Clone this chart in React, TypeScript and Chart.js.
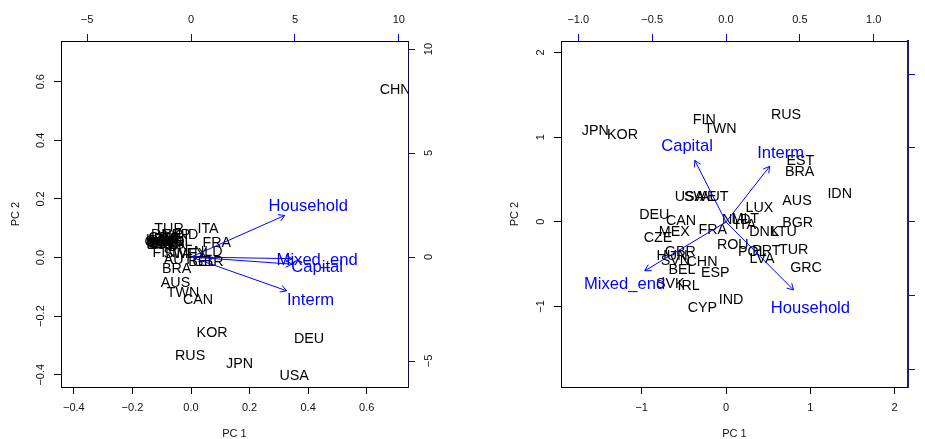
import React, { useEffect, useRef } from "react";
import { Chart, registerables } from "chart.js";

Chart.register(...registerables);

const FONT = "'Liberation Sans', Arial, Helvetica, sans-serif";
const BLUE = "#0000FF";

// ---------------- Left panel data ----------------
const countriesA = [
  "CHN", "KOR", "DEU", "RUS", "JPN", "USA", "CAN", "TWN", "AUS", "BRA",
  "ITA", "FRA", "NLD", "BEL", "GBR", "CYP", "MLT", "LUX", "EST", "LVA",
  "LTU", "SVN", "BGR", "SVK", "IRL", "GRC", "HUN", "PRT", "ROU", "CZE",
  "DNK", "FIN", "TUR", "ESP", "IND", "POL", "IDN", "SWE", "MEX", "AUT",
];
const pc1A = [
  0.697, 0.072, 0.403, -0.003, 0.166, 0.352, 0.024, -0.027, -0.053, -0.049,
  0.058, 0.088, 0.059, 0.037, 0.058, -0.109, -0.106, -0.106, -0.103, -0.099,
  -0.099, -0.096, -0.092, -0.089, -0.085, -0.092, -0.082, -0.079, -0.075, -0.072,
  -0.085, -0.092, -0.075, -0.051, -0.017, -0.044, -0.051, -0.038, 0.003, -0.044,
];
const pc2A = [
  0.577, -0.253, -0.273, -0.334, -0.36, -0.402, -0.14, -0.119, -0.082, -0.037,
  0.102, 0.052, 0.024, -0.01, -0.012, 0.058, 0.051, 0.065, 0.048, 0.055,
  0.065, 0.051, 0.061, 0.055, 0.048, 0.072, 0.058, 0.068, 0.048, 0.058,
  0.082, 0.02, 0.102, 0.082, 0.082, 0.058, 0.038, 0.017, 0.017, -0.003,
];
const varsA = ["Household", "Mixed_end", "Capital", "Interm"];
const varLabelXA = [5.64, 6.07, 6.07, 5.75];
const varLabelYA = [2.5, -0.1, -0.43, -2.03];

const bottomTicksA = [-0.4, -0.2, 0, 0.2, 0.4, 0.6];
const leftTicksA = [-0.4, -0.2, 0, 0.2, 0.4, 0.6];
const topTicksA = [-5, 0, 5, 10];
const rightTicksA = [-5, 0, 5, 10];

// ---------------- Right panel data ----------------
const countriesB = [
  "JPN", "KOR", "FIN", "TWN", "RUS", "EST", "BRA", "IDN", "AUS", "LUX",
  "BGR", "DEU", "CAN", "MEX", "CZE", "FRA", "MLT", "NLD", "ITA", "DNK",
  "LTU", "ROU", "POL", "PRT", "LVA", "TUR", "GRC", "GBR", "HUN", "SVN",
  "CHN", "BEL", "ESP", "SVK", "IRL", "IND", "CYP", "USA", "SWE", "AUT",
];
const pc1B = [
  -1.55, -1.227, -0.257, -0.068, 0.712, 0.881, 0.873, 1.348, 0.842, 0.395,
  0.85, -0.851, -0.534, -0.613, -0.807, -0.158, 0.229, 0.122, 0.229, 0.454,
  0.686, 0.08, 0.312, 0.478, 0.427, 0.802, 0.949, -0.542, -0.641, -0.601,
  -0.285, -0.522, -0.127, -0.661, -0.444, 0.059, -0.281, -0.435, -0.305, -0.139,
];
const pc2B = [
  1.08, 1.041, 1.219, 1.104, 1.27, 0.734, 0.599, 0.343, 0.256, 0.173,
  0.004, 0.098, 0.027, -0.107, -0.182, -0.083, 0.047, 0.04, -0.02, -0.111,
  -0.111, -0.255, -0.348, -0.328, -0.426, -0.316, -0.537, -0.348, -0.387, -0.446,
  -0.466, -0.556, -0.596, -0.722, -0.742, -0.911, -1.006, 0.305, 0.305, 0.305,
];
const varsB = ["Capital", "Interm", "Mixed_end", "Household"];
const varLabelXB = [-0.264, 0.37, -0.687, 0.571];
const varLabelYB = [0.52, 0.47, -0.412, -0.574];

const bottomTicksB = [-1, 0, 1, 2];
const leftTicksB = [-1, 0, 1, 2];
const topTicksB = [-1, -0.5, 0, 0.5, 1];
const rightTicksB = [-1, -0.5, 0, 0.5, 1];

// R's biplot draws arrows to 0.8 of the label position
const ARROW_FRACTION = 0.8;

function fmt(v: number, dec: number): string {
  const a = Math.abs(v) < 1e-9 ? 0 : v;
  return (a < 0 ? "\u2212" : "") + Math.abs(a).toFixed(dec);
}

interface PanelSpec {
  names: string[];
  pc1: number[];
  pc2: number[];
  vars: string[];
  varX: number[];
  varY: number[];
  xRange: [number, number];
  yRange: [number, number];
  x2Range: [number, number];
  y2Range: [number, number];
  xTicks: number[];
  yTicks: number[];
  x2Ticks: number[];
  y2Ticks: number[];
  xDec: number;
  yDec: number;
  x2Dec: number;
  y2Dec: number;
  leftW: number;
  rightW: number;
  topH: number;
  bottomH: number;
  yPad: number;
  y2Pad: number;
  yTitlePad: number;
  edgeColor: string;
  edgeWidth: number;
}

function axis(
  position: string,
  range: [number, number],
  ticks: number[],
  dec: number,
  tickColor: string,
  pad: number,
  size: number,
  vertical: boolean,
  title?: string,
  titlePad?: number,
  borderColor = "#000",
  borderWidth = 1
) {
  return {
    type: "linear",
    position,
    min: range[0],
    max: range[1],
    afterBuildTicks: (s: any) => {
      s.ticks = ticks.map((v) => ({ value: v }));
    },
    afterFit: (s: any) => {
      if (vertical) s.width = size;
      else s.height = size;
    },
    ticks: {
      callback: (v: any) => fmt(Number(v), dec),
      color: "#111",
      font: { family: FONT, size: 11 },
      padding: pad,
      autoSkip: false,
      minRotation: vertical ? 90 : 0,
      maxRotation: vertical ? 90 : 0,
      crossAlign: vertical ? "center" : "near",
    },
    grid: {
      display: true,
      drawOnChartArea: false,
      drawTicks: true,
      tickLength: 7,
      color: tickColor,
      tickColor: tickColor,
      lineWidth: 1,
    },
    border: { display: true, color: borderColor, width: borderWidth },
    title: title
      ? {
          display: true,
          text: title,
          color: "#111",
          font: { family: FONT, size: 11, lineHeight: 1 },
          padding: { top: titlePad ?? 0, bottom: 0 },
        }
      : { display: false },
  };
}

function buildConfig(s: PanelSpec): any {
  const obs = s.names.map((_, i) => ({ x: s.pc1[i], y: s.pc2[i] }));
  const arrowSets = s.vars.map((v, i) => ({
    label: v,
    data: [
      { x: 0, y: 0 },
      { x: s.varX[i] * ARROW_FRACTION, y: s.varY[i] * ARROW_FRACTION },
    ],
    xAxisID: "x2",
    yAxisID: "y2",
    showLine: true,
    borderColor: BLUE,
    borderWidth: 1,
    pointRadius: 0,
    fill: false,
  }));

  const clip = (chart: any) => {
    const { ctx, chartArea: a } = chart;
    ctx.beginPath();
    ctx.rect(a.left, a.top, a.right - a.left, a.bottom - a.top);
    ctx.clip();
  };

  const plugin = {
    id: "biplotText",
    beforeDatasetsDraw(chart: any) {
      const ctx = chart.ctx;
      ctx.save();
      clip(chart);
      const size = 14.3;
      ctx.font = `${size}px ${FONT}`;
      ctx.fillStyle = "#000";
      ctx.textAlign = "center";
      ctx.textBaseline = "alphabetic";
      const meta = chart.getDatasetMeta(0);
      meta.data.forEach((el: any, i: number) => {
        ctx.fillText(s.names[i], el.x, el.y + 0.358 * size);
      });
      ctx.restore();
    },
    afterDatasetsDraw(chart: any) {
      const ctx = chart.ctx;
      ctx.save();
      clip(chart);
      const L = 7;
      const ang0 = Math.PI / 6;
      ctx.strokeStyle = BLUE;
      ctx.lineWidth = 1;
      for (let k = 1; k < chart.data.datasets.length; k++) {
        const meta = chart.getDatasetMeta(k);
        const p0 = meta.data[0];
        const p1 = meta.data[1];
        const ang = Math.atan2(p1.y - p0.y, p1.x - p0.x);
        ctx.beginPath();
        ctx.moveTo(p1.x - L * Math.cos(ang - ang0), p1.y - L * Math.sin(ang - ang0));
        ctx.lineTo(p1.x, p1.y);
        ctx.lineTo(p1.x - L * Math.cos(ang + ang0), p1.y - L * Math.sin(ang + ang0));
        ctx.stroke();
      }
      const size = 16.6;
      ctx.font = `${size}px ${FONT}`;
      ctx.fillStyle = BLUE;
      ctx.textAlign = "center";
      ctx.textBaseline = "alphabetic";
      const sx = chart.scales.x2;
      const sy = chart.scales.y2;
      s.vars.forEach((v, i) => {
        const px = sx.getPixelForValue(s.varX[i]);
        const py = sy.getPixelForValue(s.varY[i]);
        ctx.fillText(v, px, py + 0.358 * size);
      });
      ctx.restore();
    },
  };

  return {
    type: "scatter",
    data: {
      datasets: [
        { label: "obs", data: obs, pointRadius: 0, xAxisID: "x", yAxisID: "y" },
        ...arrowSets,
      ],
    },
    options: {
      animation: false,
      responsive: false,
      devicePixelRatio: 1,
      events: [],
      layout: { padding: 0 },
      plugins: { legend: { display: false }, tooltip: { enabled: false } },
      scales: {
        x: axis("bottom", s.xRange, s.xTicks, s.xDec, "#000", 7, s.bottomH, false, "PC 1", 0),
        x2: axis("top", s.x2Range, s.x2Ticks, s.x2Dec, BLUE, 7, s.topH, false),
        y: axis("left", s.yRange, s.yTicks, s.yDec, "#000", s.yPad, s.leftW, true, "PC 2", s.yTitlePad),
        y2: axis("right", s.y2Range, s.y2Ticks, s.y2Dec, BLUE, s.y2Pad, s.rightW, true, undefined, 0, s.edgeColor, s.edgeWidth),
      },
    },
    plugins: [plugin],
  };
}

const specA: PanelSpec = {
  names: countriesA,
  pc1: pc1A,
  pc2: pc2A,
  vars: varsA,
  varX: varLabelXA,
  varY: varLabelYA,
  xRange: [-0.444, 0.741],
  yRange: [-0.442, 0.739],
  x2Range: [-6.256, 10.44],
  y2Range: [-6.25, 10.385],
  xTicks: bottomTicksA,
  yTicks: leftTicksA,
  x2Ticks: topTicksA,
  y2Ticks: rightTicksA,
  xDec: 1,
  yDec: 1,
  x2Dec: 0,
  y2Dec: 0,
  leftW: 61,
  rightW: 54,
  topH: 41,
  bottomH: 52,
  yPad: 2.5,
  y2Pad: 7.5,
  yTitlePad: 10,
  edgeColor: "#0c0c48",
  edgeWidth: 1,
};

const specB: PanelSpec = {
  names: countriesB,
  pc1: pc1B,
  pc2: pc2B,
  vars: varsB,
  varX: varLabelXB,
  varY: varLabelYB,
  xRange: [-1.957, 2.158],
  yRange: [-1.95, 2.134],
  x2Range: [-1.117, 1.232],
  y2Range: [-1.115, 1.223],
  xTicks: bottomTicksB,
  yTicks: leftTicksB,
  x2Ticks: topTicksB,
  y2Ticks: rightTicksB,
  xDec: 0,
  yDec: 0,
  x2Dec: 1,
  y2Dec: 1,
  leftW: 99,
  rightW: 54,
  topH: 41,
  bottomH: 52,
  yPad: 6.5,
  y2Pad: 10.5,
  yTitlePad: 47.5,
  edgeColor: "#1e1e78",
  edgeWidth: 2,
};

function Panel({ spec, left, width }: { spec: PanelSpec; left: number; width: number }) {
  const ref = useRef<HTMLCanvasElement>(null);
  useEffect(() => {
    const chart = new Chart(ref.current as HTMLCanvasElement, buildConfig(spec));
    return () => chart.destroy();
  }, [spec]);
  return (
    <canvas
      ref={ref}
      width={width}
      height={439}
      style={{ position: "absolute", left, top: 0, width, height: 439 }}
    />
  );
}

export default function App() {
  return (
    <div
      style={{
        position: "absolute",
        left: 0,
        top: 0,
        width: 925,
        height: 439,
        overflow: "hidden",
        background: "#fff",
      }}
    >
      <Panel spec={specA} left={0} width={462} />
      <Panel spec={specB} left={462} width={500} />
    </div>
  );
}
